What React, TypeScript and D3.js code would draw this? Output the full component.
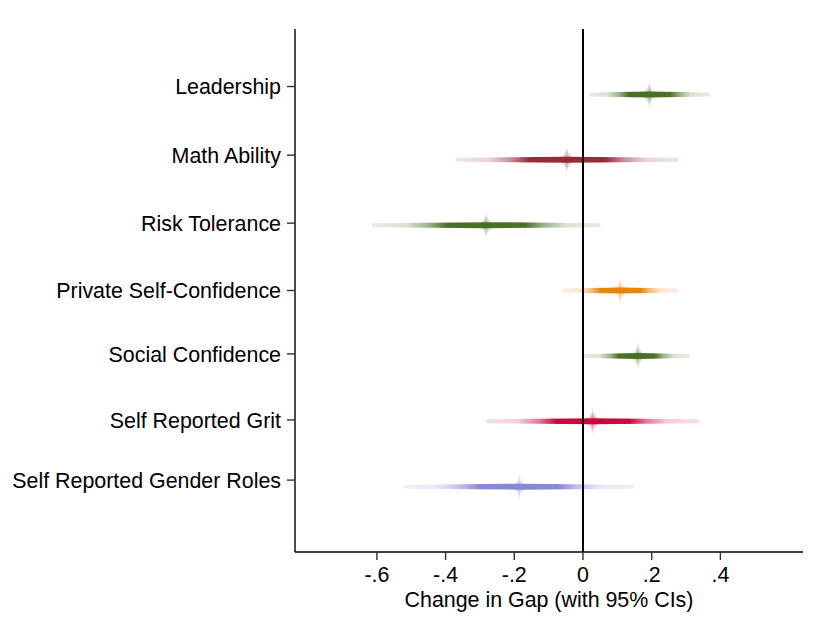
import React from "react";
import * as d3 from "d3";

const categories = [
  "Leadership",
  "Math Ability",
  "Risk Tolerance",
  "Private Self-Confidence",
  "Social Confidence",
  "Self Reported Grit",
  "Self Reported Gender Roles",
];
const estimates = [0.193, -0.047, -0.282, 0.108, 0.16, 0.028, -0.185];
const ciLow = [0.017, -0.37, -0.615, -0.059, 0.003, -0.282, -0.521];
const ciHigh = [0.37, 0.279, 0.051, 0.278, 0.31, 0.339, 0.148];
const pointPos = [1, 2, 3, 4, 5, 6, 7];
const labelPos = [0.88, 1.93, 2.97, 4.0, 4.97, 5.98, 6.9];
const colors = ["#4b7125", "#932c3c", "#4b7125", "#e8850c", "#4b7125", "#c8093d", "#8a87d6"];
const xTicks = [-0.6, -0.4, -0.2, 0, 0.2, 0.4];
const xTickLabels = ["-.6", "-.4", "-.2", "0", ".2", ".4"];
const xTitle = "Change in Gap (with 95% CIs)";

const W = 813;
const H = 630;
const left = 295;
const right = 803;
const top = 29;
const bottom = 552;
const FONT = "'Liberation Sans', Arial, Helvetica, sans-serif";
const FS = 21.4;

export default function App() {
  const x = d3.scaleLinear().domain([-0.8384, 0.6405]).range([left, right]);
  const y = d3.scaleLinear().domain([0, 8]).range([top, bottom]);

  const starPath = (cx: number, cy: number, rx: number, ry: number) =>
    `M${cx},${cy - ry} Q${cx},${cy} ${cx + rx},${cy} Q${cx},${cy} ${cx},${cy + ry} Q${cx},${cy} ${cx - rx},${cy} Q${cx},${cy} ${cx},${cy - ry} Z`;

  return (
    <svg width={W} height={H} style={{ position: "absolute", left: 0, top: 0, background: "#fff" }}>
      <defs>
        {categories.map((c, i) => (
          <linearGradient
            key={c}
            id={`g${i}`}
            gradientUnits="userSpaceOnUse"
            x1={x(ciLow[i])}
            x2={x(ciHigh[i])}
            y1={0}
            y2={0}
          >
            <stop offset="0" stopColor={colors[i]} stopOpacity={0.13} />
            <stop offset="0.15" stopColor={colors[i]} stopOpacity={0.2} />
            <stop offset="0.25" stopColor={colors[i]} stopOpacity={0.55} />
            <stop offset="0.33" stopColor={colors[i]} stopOpacity={1} />
            <stop offset="0.67" stopColor={colors[i]} stopOpacity={1} />
            <stop offset="0.75" stopColor={colors[i]} stopOpacity={0.55} />
            <stop offset="0.85" stopColor={colors[i]} stopOpacity={0.2} />
            <stop offset="1" stopColor={colors[i]} stopOpacity={0.13} />
          </linearGradient>
        ))}
      </defs>

      {/* y axis */}
      <line x1={left} x2={left} y1={top} y2={bottom} stroke="#000" strokeWidth={1.4} />
      {labelPos.map((p, i) => (
        <g key={categories[i]}>
          <line x1={left - 8} x2={left} y1={y(p)} y2={y(p)} stroke="#333" strokeWidth={1.4} />
          <text
            x={left - 14}
            y={y(p)}
            dy="0.36em"
            textAnchor="end"
            fontFamily={FONT}
            fontSize={FS}
            fill="#000"
          >
            {categories[i]}
          </text>
        </g>
      ))}

      {/* x axis */}
      <line x1={left} x2={right} y1={bottom} y2={bottom} stroke="#000" strokeWidth={1.4} />
      {xTicks.map((t, i) => (
        <g key={t}>
          <line x1={x(t)} x2={x(t)} y1={bottom} y2={bottom + 8} stroke="#333" strokeWidth={1.4} />
          <text x={x(t)} y={582} textAnchor="middle" fontFamily={FONT} fontSize={FS} fill="#000">
            {xTickLabels[i]}
          </text>
        </g>
      ))}
      <text x={(left + right) / 2} y={607} textAnchor="middle" fontFamily={FONT} fontSize={FS} fill="#000">
        {xTitle}
      </text>

      {/* glyphs */}
      {categories.map((c, i) => {
        const cy = y(pointPos[i]);
        const cx = x(estimates[i]);
        const lo = x(ciLow[i]);
        const hi = x(ciHigh[i]);
        const bar = `M${lo},${cy - 2} L${cx},${cy - 3} L${hi},${cy - 2} L${hi},${cy + 2} L${cx},${cy + 3} L${lo},${cy + 2} Z`;
        return (
          <g key={c}>
            <path d={bar} fill={`url(#g${i})`} />
            {[1, 0.6, 0.35].map((s) => (
              <path key={s} d={starPath(cx, cy, 18 * s, 14 * s)} fill={colors[i]} fillOpacity={0.22} />
            ))}
          </g>
        );
      })}

      {/* zero line */}
      <line x1={x(0)} x2={x(0)} y1={top} y2={bottom} stroke="#000" strokeWidth={2} />
    </svg>
  );
}
